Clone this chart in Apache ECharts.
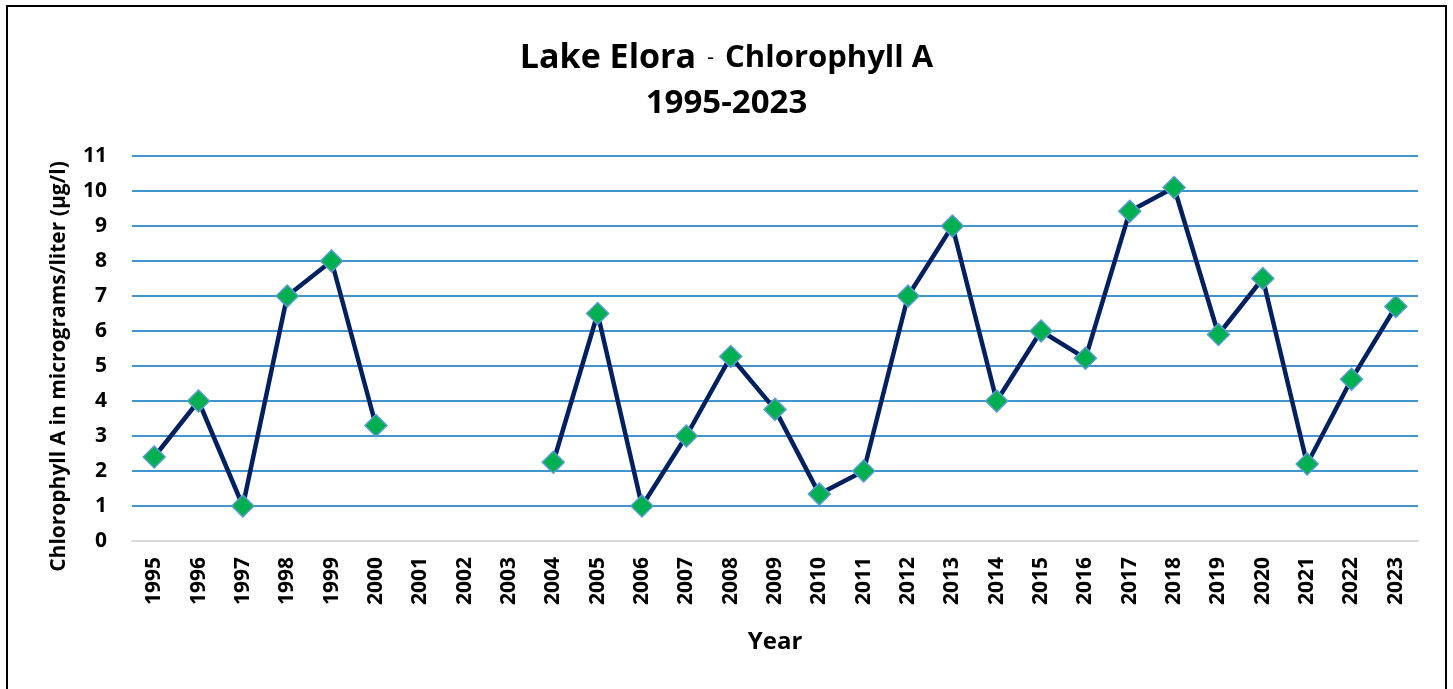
<!DOCTYPE html>
<html>
<head>
<meta charset="utf-8">
<script src="https://cdn.jsdelivr.net/npm/echarts@6/dist/echarts.min.js"></script>
<style>
  html, body { margin: 0; padding: 0; background: #fff; }
  #root { width: 1453px; height: 689px; }
</style>
</head>
<body>
<div id="root"></div>
<script>
// chart data
const years = ['1995', '1996', '1997', '1998', '1999', '2000', '2001', '2002', '2003', '2004',
  '2005', '2006', '2007', '2008', '2009', '2010', '2011', '2012', '2013', '2014',
  '2015', '2016', '2017', '2018', '2019', '2020', '2021', '2022', '2023']
const chlorophyll = [2.4, 4.0, 1.0, 7.0, 8.0, 3.3, null, null, null, 2.25,
  6.5, 1.0, 3.0, 5.27, 3.76, 1.34, 2.0, 7.0, 9.0, 4.0,
  6.0, 5.22, 9.42, 10.1, 5.9, 7.5, 2.2, 4.62, 6.7]
const yTicks = [0, 1, 2, 3, 4, 5, 6, 7, 8, 9, 10, 11]

const font = '"Open Sans", Lato, sans-serif'
const chart = echarts.init(document.getElementById('root'))

chart.setOption({
  backgroundColor: '#fff',
  animation: false,
  graphic: [{
    type: 'rect',
    shape: { x: 7, y: 6, width: 1439, height: 720 },
    style: { fill: 'none', stroke: '#000', lineWidth: 2 }
  }],
  title: [{
    left: 'center',
    top: 31,
    text: '{a|Lake Elora}{b|-}{c|Chlorophyll A}',
    textStyle: {
      rich: {
        a: { fontFamily: font, fontSize: 34, fontWeight: 'bold', color: '#000', lineHeight: 44 },
        b: { fontFamily: font, fontSize: 22, fontWeight: 'normal', color: '#000', lineHeight: 44, padding: [0, 11, 0, 11] },
        c: { fontFamily: font, fontSize: 31, fontWeight: 'bold', color: '#000', lineHeight: 44 }
      }
    }
  }, {
    left: 'center',
    top: 78,
    text: '1995-2023',
    textStyle: { fontFamily: font, fontSize: 33, fontWeight: 'bold', color: '#000', lineHeight: 42 }
  }],
  grid: { left: 132, right: 35, top: 156, bottom: 148, containLabel: false },
  xAxis: {
    type: 'category',
    data: years,
    boundaryGap: true,
    name: 'Year',
    nameLocation: 'middle',
    nameGap: 89,
    nameTextStyle: { fontFamily: font, fontSize: 24, fontWeight: 'bold', color: '#000' },
    axisLine: { lineStyle: { color: '#d9d9d9', width: 2 } },
    axisTick: { show: false },
    axisLabel: {
      rotate: 90,
      interval: 0,
      margin: 16,
      fontFamily: font,
      fontSize: 21,
      fontWeight: 'bold',
      color: '#000'
    }
  },
  yAxis: {
    type: 'value',
    min: yTicks[0],
    max: yTicks[yTicks.length - 1],
    interval: 1,
    name: 'Chlorophyll A in micrograms/liter (µg/l)',
    nameLocation: 'middle',
    nameGap: 62,
    nameTextStyle: {
      fontFamily: font, fontSize: 21, fontWeight: 'bold', color: '#000',
      padding: [0, 36, 0, 0]
    },
    axisLine: { show: false },
    axisTick: { show: false },
    axisLabel: {
      margin: 25,
      fontFamily: font,
      fontSize: 21,
      fontWeight: 'bold',
      color: '#000'
    },
    splitLine: {
      lineStyle: { color: '#0070C0', width: 1.6 },
      showMinLine: false
    }
  },
  series: [{
    type: 'line',
    data: chlorophyll,
    connectNulls: false,
    symbol: 'diamond',
    symbolSize: 22,
    showAllSymbol: true,
    lineStyle: { color: '#002060', width: 4.5 },
    itemStyle: { color: '#00B050', borderColor: '#5B9BD5', borderWidth: 1.5 }
  }]
})
</script>
</body>
</html>
